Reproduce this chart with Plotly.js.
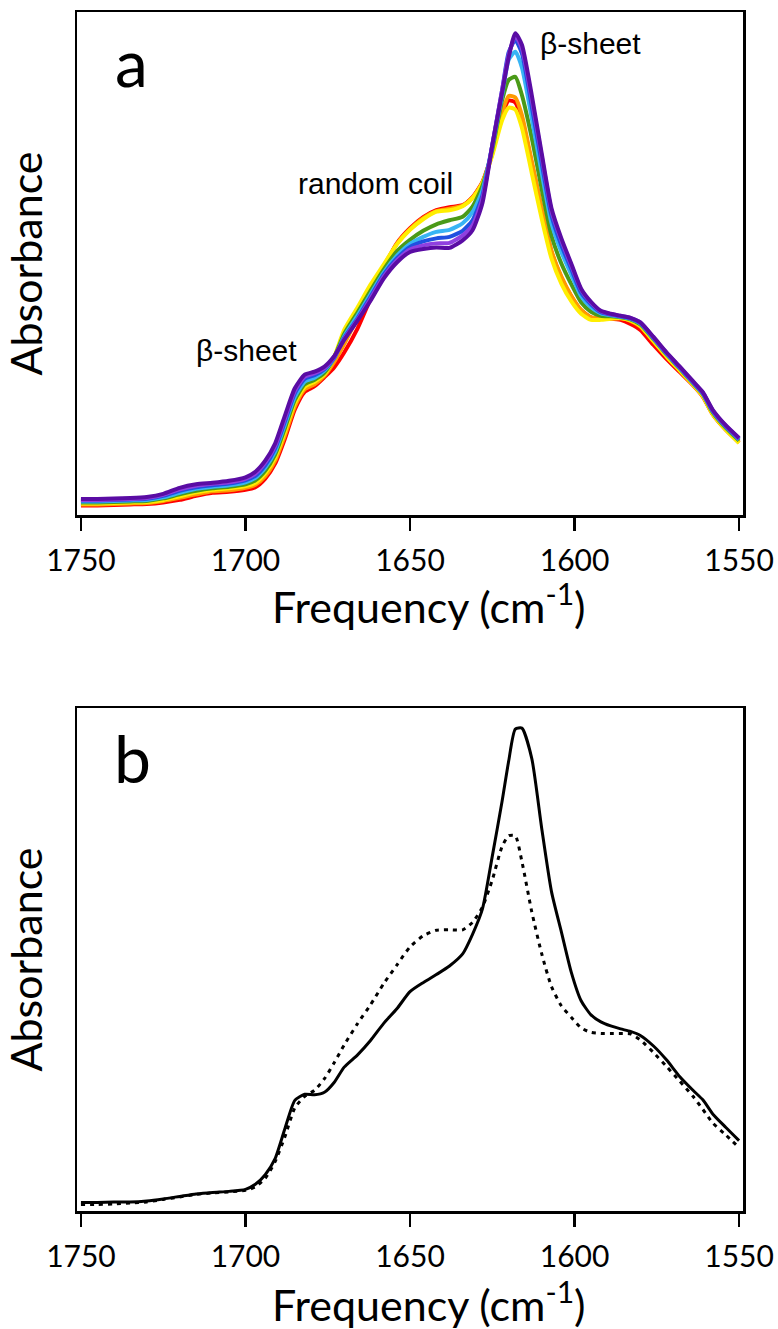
<!DOCTYPE html>
<html><head><meta charset="utf-8">
<script src="https://cdn.plot.ly/plotly-3.0.1.min.js"></script>
<style>html,body{margin:0;padding:0;background:#fff;} #chart{width:778px;height:1329px;}</style>
</head><body><div id="chart"></div>
<script>
// Wavenumber grid (cm-1)
const freq = [1750,1745,1740,1735,1730,1725,1720,1715,1710,1705,1700,1697,1694,1691,1688,1685,1682,1679,1676,1673,1670,1666,1662,1658,1654,1650,1646,1642,1638,1634,1631,1628,1625,1622,1620,1618,1616,1613,1610,1607,1604,1601,1598,1595,1592,1589,1586,1583,1580,1576,1572,1568,1564,1561,1558,1554,1550];

// Panel a series (absorbance, arbitrary units)
const redA = [1.9,1.9,2.0,2.1,2.2,2.5,3.0,3.8,4.4,4.6, 5.0,5.5,7.2,10.2,15.2,21.0,24.5,25.6,27.4,29.4, 32.3,37.0,43.0,49.0,54.0,57.0,59.2,60.6,61.2,61.6, 63.2,66.2,72.0,79.5,82.4,82.0,78.5,70.0,60.8,52.3, 47.2,43.5,40.7,39.3,39.0,39.0,38.8,38.0,36.8,33.8, 31.0,28.4,25.8,23.5,20.0,16.9,14.4];
const orangeA = [2.1,2.1,2.2,2.3,2.4,2.8,3.4,4.1,4.7,4.9, 5.4,6.0,7.7,10.8,15.9,21.6,25.0,26.0,27.7,30.5, 34.0,39.2,44.5,49.5,53.9,56.8,59.0,60.4,60.9,61.5, 63.1,66.1,71.8,80.0,83.3,83.0,79.5,70.3,61.0,52.5, 47.4,43.6,40.8,39.3,39.1,39.2,39.2,38.6,37.5,34.5, 31.5,28.7,26.0,23.7,20.1,17.0,14.4];
const yellowA = [2.3,2.3,2.4,2.5,2.6,3.0,3.7,4.5,5.0,5.3, 5.75,6.4,8.3,11.4,16.6,22.3,25.5,26.5,28.0,31.5, 36.8,41.2,45.8,49.8,53.8,56.7,58.8,60.3,60.6,61.4, 63.0,66.0,71.5,78.5,81.0,80.6,77.0,68.0,59.0,51.0, 46.0,42.5,40.0,38.8,38.8,39.0,39.1,38.7,37.6,34.6, 31.5,28.7,25.9,23.6,20.0,16.9,14.3];
const greenA = [2.5,2.5,2.6,2.7,2.8,3.3,4.1,4.8,5.3,5.6, 6.1,6.9,8.8,12.0,17.3,22.9,26.0,26.9,28.3,31.4, 36.0,40.2,44.6,48.8,52.4,54.7,56.5,57.8,58.6,59.3, 61.3,65.4,72.6,82.5,86.5,87.1,83.5,75.0,64.9,55.5, 50.0,45.9,42.3,40.4,39.6,39.5,39.3,38.9,37.9,35.0, 31.9,29.1,26.2,24.0,20.4,17.3,14.8];
const lightBlueA = [2.7,2.7,2.8,2.9,3.0,3.5,4.4,5.2,5.6,5.9, 6.5,7.4,9.4,12.6,18.0,23.5,26.5,27.3,28.7,31.2, 35.5,39.6,43.9,48.2,51.5,53.9,55.3,56.3,56.7,58.0, 60.2,64.5,73.3,83.5,90.5,92.1,89.0,78.9,68.1,58.0, 52.3,47.8,43.5,41.3,40.1,39.7,39.4,39.0,38.1,35.1, 32.0,29.2,26.3,24.1,20.6,17.5,15.0];
const blueA = [2.9,2.9,3.0,3.1,3.25,3.8,4.8,5.5,5.9,6.25, 6.9,7.8,9.9,13.2,18.6,24.2,27.05,27.8,29.0,31.3, 35.2,39.0,43.4,47.8,51.0,53.3,54.4,55.0,55.3,56.5, 58.6,63.5,73.5,84.5,92.0,94.4,91.8,81.2,70.0,59.5, 53.6,48.9,44.2,41.9,40.3,39.85,39.5,39.1,38.2,35.2, 32.1,29.3,26.4,24.2,20.7,17.6,15.1];
const violetA = [3.0,3.0,3.1,3.2,3.4,4.0,5.1,5.8,6.2,6.5, 7.2,8.2,10.4,13.7,19.2,24.7,27.5,28.2,29.2,31.5, 35.0,38.8,43.0,47.4,50.6,52.8,53.6,54.0,54.1,55.6, 57.6,62.8,73.5,84.5,91.5,95.2,92.8,82.7,71.4,60.5, 54.6,49.6,44.8,42.2,40.5,39.95,39.6,39.2,38.3,35.3, 32.2,29.4,26.5,24.3,20.8,17.7,15.2];
const indigoA = [3.2,3.2,3.3,3.4,3.6,4.2,5.4,6.1,6.4,6.8, 7.5,8.6,10.8,14.2,19.8,25.2,27.9,28.5,29.5,31.6, 34.8,38.6,42.6,47.0,50.2,52.3,52.9,53.2,53.1,54.6, 56.6,62.0,73.5,84.0,91.0,95.8,93.5,83.5,72.0,61.0, 55.0,50.0,45.0,42.4,40.6,40.0,39.6,39.2,38.3,35.4, 32.3,29.5,26.6,24.4,20.9,17.8,15.3];

// Panel b series
const solidB = [1.7,1.7,1.8,1.8,2.0,2.4,2.9,3.4,3.7,3.9, 4.3,5.3,7.2,10.4,16.4,22.0,23.2,23.1,23.6,25.6, 28.6,31.0,33.9,37.3,40.2,43.6,45.4,47.0,48.7,51.1, 55.0,60.0,70.5,81.5,89.5,95.8,96.0,90.0,76.2,63.5, 55.5,47.5,41.8,39.0,37.6,36.8,36.2,35.7,34.9,32.8, 30.0,26.7,24.0,22.1,19.3,16.6,14.0];
const dottedB = [1.3,1.3,1.4,1.6,1.8,2.3,2.8,3.3,3.6,3.8, 4.1,4.8,6.5,9.8,14.8,20.5,22.8,24.0,26.3,29.5, 33.0,37.2,41.0,45.2,48.9,52.5,54.7,55.8,55.9,55.9, 57.4,60.4,65.8,72.5,74.6,74.6,69.5,59.5,51.2,44.6, 40.8,38.5,36.4,35.5,35.3,35.3,35.3,35.2,34.0,31.5, 28.7,25.8,22.8,20.2,17.5,15.1,12.6];

const tickVals = [1750,1700,1650,1600,1550];
const tickLabels = ['1750','1700','1650','1600','1550'];
const xTitle = 'Frequency (cm<sup>-1</sup>)';
const yTitle = 'Absorbance';

const seriesA = [redA, orangeA, yellowA, greenA, lightBlueA, blueA, violetA, indigoA];
const colorsA = ['#ff0000','#ff9a00','#ffee00','#4a9a18','#38b4f4','#2050e0','#9040e0','#5a0ca4'];

const traces = seriesA.map((ys, i) => ({
  x: freq, y: ys, xaxis: 'x', yaxis: 'y', type: 'scatter', mode: 'lines',
  line: {color: colorsA[i], width: 4, shape: 'spline', smoothing: 0.6}, showlegend: false, hoverinfo: 'skip'
}));
traces.push({x: freq, y: dottedB, xaxis: 'x2', yaxis: 'y2', type: 'scatter', mode: 'lines',
  line: {color: '#000', width: 3, dash: '4px,5px', shape: 'spline', smoothing: 0.6}, showlegend: false});
traces.push({x: freq, y: solidB, xaxis: 'x2', yaxis: 'y2', type: 'scatter', mode: 'lines',
  line: {color: '#000', width: 3, shape: 'spline', smoothing: 0.6}, showlegend: false});

const fontFam = 'Lato, "Open Sans", sans-serif';
function xAx(anchor) {
  return {
    anchor: anchor, domain: [77/778, 743/778], range: [1751.2, 1548.8], autorange: false,
    tickmode: 'array', tickvals: tickVals, ticktext: tickLabels,
    ticks: 'outside', ticklen: 13, tickwidth: 2.5, tickcolor: '#000', ticklabelstandoff: 4,
    showline: true, linecolor: '#000', linewidth: 2.5, mirror: true,
    showgrid: false, zeroline: false, automargin: false,
    tickfont: {family: fontFam, size: 30, color: '#000'}
  };
}
function yAx(anchor, dom) {
  return {
    anchor: anchor, domain: dom, range: [0, 100], autorange: false,
    showticklabels: false, ticks: '', showline: true, linecolor: '#000', linewidth: 2.5, mirror: true,
    showgrid: false, zeroline: false, automargin: false,
    title: {text: yTitle, font: {family: fontFam, size: 43, color: '#000'}, standoff: 20}
  };
}

const annFont = {family: '"Liberation Sans", Arial, sans-serif', size: 30, color: '#000'};
const titleFont = {family: fontFam, size: 43, color: '#000'};
const layout = {
  width: 778, height: 1329, margin: {l: 0, r: 0, t: 0, b: 0},
  paper_bgcolor: '#fff', plot_bgcolor: '#fff', showlegend: false,
  xaxis: xAx('y'), yaxis: yAx('x', [(1329-515)/1329, (1329-12)/1329]),
  xaxis2: xAx('y2'), yaxis2: yAx('x2', [(1329-1211)/1329, (1329-708)/1329]),
  annotations: [
    {xref: 'paper', yref: 'paper', x: 429/778, y: 1 - 603/1329, text: xTitle, showarrow: false, xanchor: 'center', yanchor: 'middle', font: titleFont},
    {xref: 'paper', yref: 'paper', x: 429/778, y: 1 - 1301/1329, text: xTitle, showarrow: false, xanchor: 'center', yanchor: 'middle', font: titleFont},
    {xref: 'paper', yref: 'paper', x: 131/778, y: 1 - 62/1329, text: 'a', showarrow: false, xanchor: 'center', yanchor: 'middle', font: {family: fontFam, size: 66, color: '#000'}},
    {xref: 'paper', yref: 'paper', x: 132/778, y: 1 - 758/1329, text: 'b', showarrow: false, xanchor: 'center', yanchor: 'middle', font: {family: fontFam, size: 66, color: '#000'}},
    {xref: 'x', yref: 'y', x: 1660.6, y: 66.0, text: 'random coil', showarrow: false, xanchor: 'center', yanchor: 'middle', font: annFont},
    {xref: 'x', yref: 'y', x: 1595.0, y: 93.8, text: 'β-sheet', showarrow: false, xanchor: 'center', yanchor: 'middle', font: annFont},
    {xref: 'x', yref: 'y', x: 1699.7, y: 32.8, text: 'β-sheet', showarrow: false, xanchor: 'center', yanchor: 'middle', font: annFont}
  ]
};

Plotly.newPlot('chart', traces, layout, {staticPlot: true, displayModeBar: false});
</script>
</body></html>
